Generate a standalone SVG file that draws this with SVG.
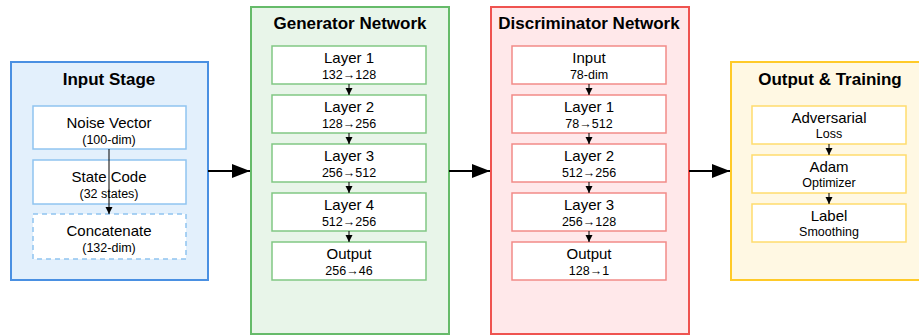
<svg xmlns="http://www.w3.org/2000/svg" width="919" height="336" viewBox="0 0 919 336">
<defs>
<marker id="big" markerWidth="18" markerHeight="14" refX="18" refY="7" orient="auto" markerUnits="userSpaceOnUse" viewBox="0 0 18 14"><path d="M0,0 L18,7 L0,14 z" fill="#000"/></marker>
<marker id="small" markerWidth="7" markerHeight="8" refX="8" refY="4" orient="auto" markerUnits="userSpaceOnUse" viewBox="0 0 8 8"><path d="M0,0 L8,4 L0,8 z" fill="#000"/></marker>
</defs>
<style>
text{font-family:"Liberation Sans",Arial,sans-serif;text-anchor:middle;fill:#000}
.title{font-size:17px;font-weight:bold}
.t1{font-size:15px}
.t2{font-size:12.5px}
.ib{fill:#fff;stroke-width:1.5}
.main{stroke:#000;stroke-width:2;fill:none;marker-end:url(#big)}
.sub{stroke:#000;stroke-width:1;fill:none;marker-end:url(#small)}
</style>
<g id="input-stage">
<rect x="11" y="62" width="197" height="218" fill="#e3f0fc" stroke="#4a90e2" stroke-width="2"/>
<text class="title" x="109" y="85">Input Stage</text>
<g id="noise"><rect class="ib" x="33" y="106" width="153" height="43" stroke="#90c4f0"/><text class="t1" x="109" y="128">Noise Vector</text><text class="t2" x="109" y="144">(100-dim)</text></g>
<g id="state"><rect class="ib" x="33" y="160" width="153" height="44" stroke="#90c4f0"/><text class="t1" x="109" y="182">State Code</text><text class="t2" x="109" y="198">(32 states)</text></g>
<g id="concat"><rect class="ib" x="33" y="214" width="153" height="45" stroke="#90c4f0" stroke-dasharray="5,4"/><text class="t1" x="109" y="236">Concatenate</text><text class="t2" x="109" y="252">(132-dim)</text></g>
</g>
<g id="generator">
<rect x="251" y="7" width="198" height="327" fill="#e8f5e9" stroke="#66bb6a" stroke-width="2"/>
<text class="title" x="350" y="29">Generator Network</text>
<g id="g1"><rect class="ib" x="272" y="46" width="154" height="38" stroke="#81c784"/><text class="t1" x="349" y="62.5">Layer 1</text><text class="t2" x="349" y="78.5">132→128</text></g>
<g id="g2"><rect class="ib" x="272" y="95" width="154" height="38" stroke="#81c784"/><text class="t1" x="349" y="111.5">Layer 2</text><text class="t2" x="349" y="127.5">128→256</text></g>
<g id="g3"><rect class="ib" x="272" y="144" width="154" height="38" stroke="#81c784"/><text class="t1" x="349" y="160.5">Layer 3</text><text class="t2" x="349" y="176.5">256→512</text></g>
<g id="g4"><rect class="ib" x="272" y="193" width="154" height="38" stroke="#81c784"/><text class="t1" x="349" y="209.5">Layer 4</text><text class="t2" x="349" y="225.5">512→256</text></g>
<g id="g5"><rect class="ib" x="272" y="242" width="154" height="38" stroke="#81c784"/><text class="t1" x="349" y="258.5">Output</text><text class="t2" x="349" y="274.5">256→46</text></g>
</g>
<g id="discriminator">
<rect x="491" y="7" width="198" height="327" fill="#ffe8ea" stroke="#ef5350" stroke-width="2"/>
<text class="title" x="589" y="29">Discriminator Network</text>
<g id="d0"><rect class="ib" x="512" y="46" width="154" height="38" stroke="#f28b88"/><text class="t1" x="589" y="62.5">Input</text><text class="t2" x="589" y="78.5">78-dim</text></g>
<g id="d1"><rect class="ib" x="512" y="95" width="154" height="38" stroke="#f28b88"/><text class="t1" x="589" y="111.5">Layer 1</text><text class="t2" x="589" y="127.5">78→512</text></g>
<g id="d2"><rect class="ib" x="512" y="144" width="154" height="38" stroke="#f28b88"/><text class="t1" x="589" y="160.5">Layer 2</text><text class="t2" x="589" y="176.5">512→256</text></g>
<g id="d3"><rect class="ib" x="512" y="193" width="154" height="38" stroke="#f28b88"/><text class="t1" x="589" y="209.5">Layer 3</text><text class="t2" x="589" y="225.5">256→128</text></g>
<g id="d4"><rect class="ib" x="512" y="242" width="154" height="38" stroke="#f28b88"/><text class="t1" x="589" y="258.5">Output</text><text class="t2" x="589" y="274.5">128→1</text></g>
</g>
<g id="output-training">
<rect x="731" y="62" width="198" height="218" fill="#fff8e3" stroke="#ffca28" stroke-width="2"/>
<text class="title" x="830" y="85">Output &amp; Training</text>
<g id="o1"><rect class="ib" x="752" y="106" width="154" height="38" stroke="#ffdc6e"/><text class="t1" x="829" y="122.5">Adversarial</text><text class="t2" x="829" y="138">Loss</text></g>
<g id="o2"><rect class="ib" x="752" y="155" width="154" height="38" stroke="#ffdc6e"/><text class="t1" x="829" y="171.5">Adam</text><text class="t2" x="829" y="187">Optimizer</text></g>
<g id="o3"><rect class="ib" x="752" y="204" width="154" height="38" stroke="#ffdc6e"/><text class="t1" x="829" y="220.5">Label</text><text class="t2" x="829" y="236">Smoothing</text></g>
</g>
<g id="connectors">
<line class="sub" x1="109" y1="149" x2="109" y2="214"/>
<line class="main" x1="208" y1="171" x2="250" y2="171"/>
<line class="main" x1="449" y1="171" x2="490" y2="171"/>
<line class="main" x1="689" y1="171" x2="730" y2="171"/>
<line class="sub" x1="349" y1="84" x2="349" y2="95"/>
<line class="sub" x1="349" y1="133" x2="349" y2="144"/>
<line class="sub" x1="349" y1="182" x2="349" y2="193"/>
<line class="sub" x1="349" y1="231" x2="349" y2="242"/>
<line class="sub" x1="589" y1="84" x2="589" y2="95"/>
<line class="sub" x1="589" y1="133" x2="589" y2="144"/>
<line class="sub" x1="589" y1="182" x2="589" y2="193"/>
<line class="sub" x1="589" y1="231" x2="589" y2="242"/>
<line class="sub" x1="829" y1="144" x2="829" y2="155"/>
<line class="sub" x1="829" y1="193" x2="829" y2="204"/>
</g>
</svg>
